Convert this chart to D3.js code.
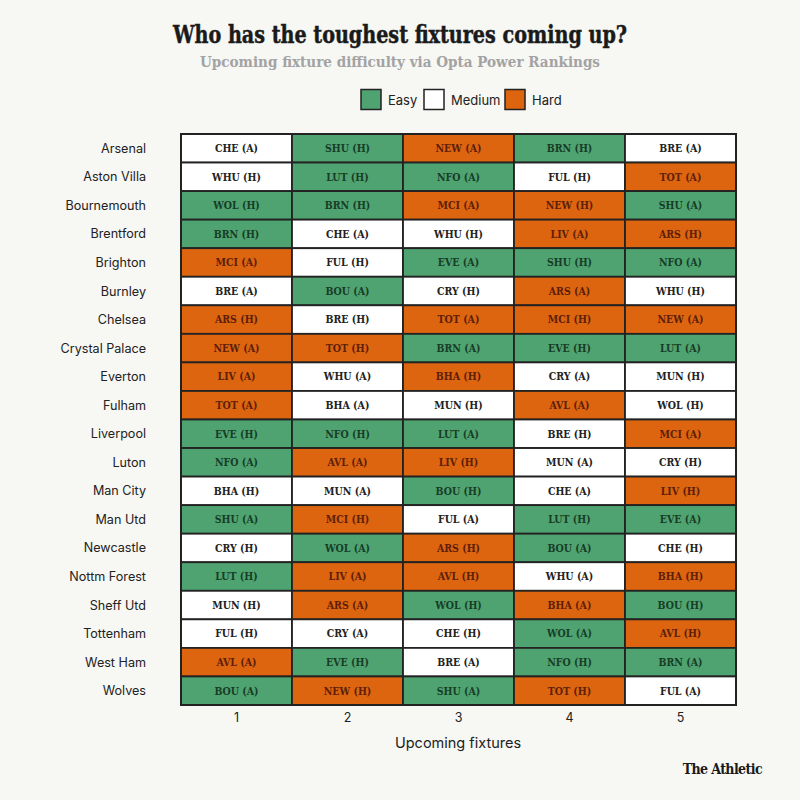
<!DOCTYPE html>
<html><head><meta charset="utf-8">
<script src="https://cdn.jsdelivr.net/npm/d3@7"></script>
<style>
body{margin:0;background:#f7f7f4;}
svg{display:block;}
</style></head><body>
<svg id="c" width="800" height="800"></svg>
<script>
const teams = ["Arsenal","Aston Villa","Bournemouth","Brentford","Brighton","Burnley","Chelsea","Crystal Palace","Everton","Fulham","Liverpool","Luton","Man City","Man Utd","Newcastle","Nottm Forest","Sheff Utd","Tottenham","West Ham","Wolves"];
const fixtureNums = ["1","2","3","4","5"];
const opponents = [
 ["CHE (A)","SHU (H)","NEW (A)","BRN (H)","BRE (A)"],
 ["WHU (H)","LUT (H)","NFO (A)","FUL (H)","TOT (A)"],
 ["WOL (H)","BRN (H)","MCI (A)","NEW (H)","SHU (A)"],
 ["BRN (H)","CHE (A)","WHU (H)","LIV (A)","ARS (H)"],
 ["MCI (A)","FUL (H)","EVE (A)","SHU (H)","NFO (A)"],
 ["BRE (A)","BOU (A)","CRY (H)","ARS (A)","WHU (H)"],
 ["ARS (H)","BRE (H)","TOT (A)","MCI (H)","NEW (A)"],
 ["NEW (A)","TOT (H)","BRN (A)","EVE (H)","LUT (A)"],
 ["LIV (A)","WHU (A)","BHA (H)","CRY (A)","MUN (H)"],
 ["TOT (A)","BHA (A)","MUN (H)","AVL (A)","WOL (H)"],
 ["EVE (H)","NFO (H)","LUT (A)","BRE (H)","MCI (A)"],
 ["NFO (A)","AVL (A)","LIV (H)","MUN (A)","CRY (H)"],
 ["BHA (H)","MUN (A)","BOU (H)","CHE (A)","LIV (H)"],
 ["SHU (A)","MCI (H)","FUL (A)","LUT (H)","EVE (A)"],
 ["CRY (H)","WOL (A)","ARS (H)","BOU (A)","CHE (H)"],
 ["LUT (H)","LIV (A)","AVL (H)","WHU (A)","BHA (H)"],
 ["MUN (H)","ARS (A)","WOL (H)","BHA (A)","BOU (H)"],
 ["FUL (H)","CRY (A)","CHE (H)","WOL (A)","AVL (H)"],
 ["AVL (A)","EVE (H)","BRE (A)","NFO (H)","BRN (A)"],
 ["BOU (A)","NEW (H)","SHU (A)","TOT (H)","FUL (A)"]
];
const difficulty = [
 ["M","E","H","E","M"],
 ["M","E","E","M","H"],
 ["E","E","H","H","E"],
 ["E","M","M","H","H"],
 ["H","M","E","E","E"],
 ["M","E","M","H","M"],
 ["H","M","H","H","H"],
 ["H","H","E","E","E"],
 ["H","M","H","M","M"],
 ["H","M","M","H","M"],
 ["E","E","E","M","H"],
 ["E","H","H","M","M"],
 ["M","M","E","M","H"],
 ["E","H","M","E","E"],
 ["M","E","H","E","M"],
 ["E","H","H","M","H"],
 ["M","H","E","H","E"],
 ["M","M","M","E","H"],
 ["H","E","M","E","E"],
 ["E","H","E","H","M"]
];
const levels = ["E","M","H"];
const levelNames = ["Easy","Medium","Hard"];
const fillColors = ["#4fa371","#ffffff","#dd6510"];
const textColors = ["#173d26","#222222","#5e2008"];

const svg = d3.select("#c");
const W = 800;
const gLeft = 181, gRight = 736, gTop = 134, gBottom = 705;
const x = d3.scaleBand().domain(fixtureNums).range([gLeft, gRight]);
const y = d3.scaleBand().domain(teams).range([gTop, gBottom]);
const fill = d3.scaleOrdinal().domain(levels).range(fillColors);
const tcol = d3.scaleOrdinal().domain(levels).range(textColors);

svg.append("rect").attr("width",W).attr("height",800).attr("fill","#f7f7f4");

// Title
svg.append("text").attr("x",400).attr("y",43).attr("text-anchor","middle")
 .attr("font-family","'DejaVu Serif'").attr("font-weight","bold").attr("font-size",25)
 .attr("textLength",454).attr("lengthAdjust","spacingAndGlyphs")
 .attr("stroke","#1a1a1a").attr("stroke-width",0.5)
 .attr("fill","#1a1a1a").text("Who has the toughest fixtures coming up?");
svg.append("text").attr("x",400).attr("y",67).attr("text-anchor","middle")
 .attr("font-family","'DejaVu Serif'").attr("font-weight","bold").attr("font-size",15.5)
 .attr("textLength",400).attr("lengthAdjust","spacingAndGlyphs")
 .attr("fill","#a3a3a3").text("Upcoming fixture difficulty via Opta Power Rankings");

// Legend
const legX = [361, 424, 505];
const lg = svg.append("g");
levels.forEach((l,i)=>{
  lg.append("rect").attr("x",legX[i]).attr("y",89.5).attr("width",20).attr("height",20)
    .attr("fill",fill(l)).attr("stroke","#222").attr("stroke-width",1.5);
  lg.append("text").attr("x",legX[i]+27).attr("y",104.5)
    .attr("font-family","Inter, 'Noto Sans', sans-serif").attr("font-size",13)
    .attr("fill","#222").text(levelNames[i]);
});

// Cells
const cells = [];
teams.forEach((t,r)=>fixtureNums.forEach((f,c)=>cells.push({t,f,opp:opponents[r][c],d:difficulty[r][c]})));
const g = svg.append("g");
g.selectAll("rect.cell").data(cells).join("rect").attr("class","cell")
 .attr("x",d=>x(d.f)).attr("y",d=>y(d.t)).attr("width",x.bandwidth()).attr("height",y.bandwidth())
 .attr("fill",d=>fill(d.d)).attr("stroke","#222").attr("stroke-width",1.8);
g.selectAll("text.cell").data(cells).join("text").attr("class","cell")
 .attr("x",d=>x(d.f)+x.bandwidth()/2).attr("y",d=>y(d.t)+y.bandwidth()/2+3.8)
 .attr("text-anchor","middle").attr("font-family","'DejaVu Serif Condensed','DejaVu Serif'")
 .attr("font-stretch","condensed").attr("font-weight","bold").attr("font-size",10.5)
 .attr("fill",d=>tcol(d.d)).text(d=>d.opp);
g.append("rect").attr("x",gLeft).attr("y",gTop).attr("width",gRight-gLeft).attr("height",gBottom-gTop)
 .attr("fill","none").attr("stroke","#222").attr("stroke-width",2);

// Row labels
svg.append("g").selectAll("text").data(teams).join("text")
 .attr("x",146).attr("y",d=>y(d)+y.bandwidth()/2+4.5).attr("text-anchor","end")
 .attr("font-family","Inter, 'Noto Sans', sans-serif").attr("font-size",12.6).attr("fill","#222")
 .text(d=>d);

// Column labels
svg.append("g").selectAll("text").data(fixtureNums).join("text")
 .attr("x",d=>x(d)+x.bandwidth()/2).attr("y",722).attr("text-anchor","middle")
 .attr("font-family","Inter, 'Noto Sans', sans-serif").attr("font-size",12.5).attr("fill","#222")
 .text(d=>d);
svg.append("text").attr("x",458).attr("y",748).attr("text-anchor","middle")
 .attr("font-family","Inter, 'Noto Sans', sans-serif").attr("font-size",14.5).attr("fill","#222")
 .text("Upcoming fixtures");

svg.append("text").attr("x",762).attr("y",774).attr("text-anchor","end")
 .attr("font-family","'DejaVu Serif Condensed','DejaVu Serif'").attr("font-weight","bold")
 .attr("font-size",14).attr("letter-spacing",-0.6).attr("fill","#1a1a1a").text("The Athletic");
</script>
</body></html>
